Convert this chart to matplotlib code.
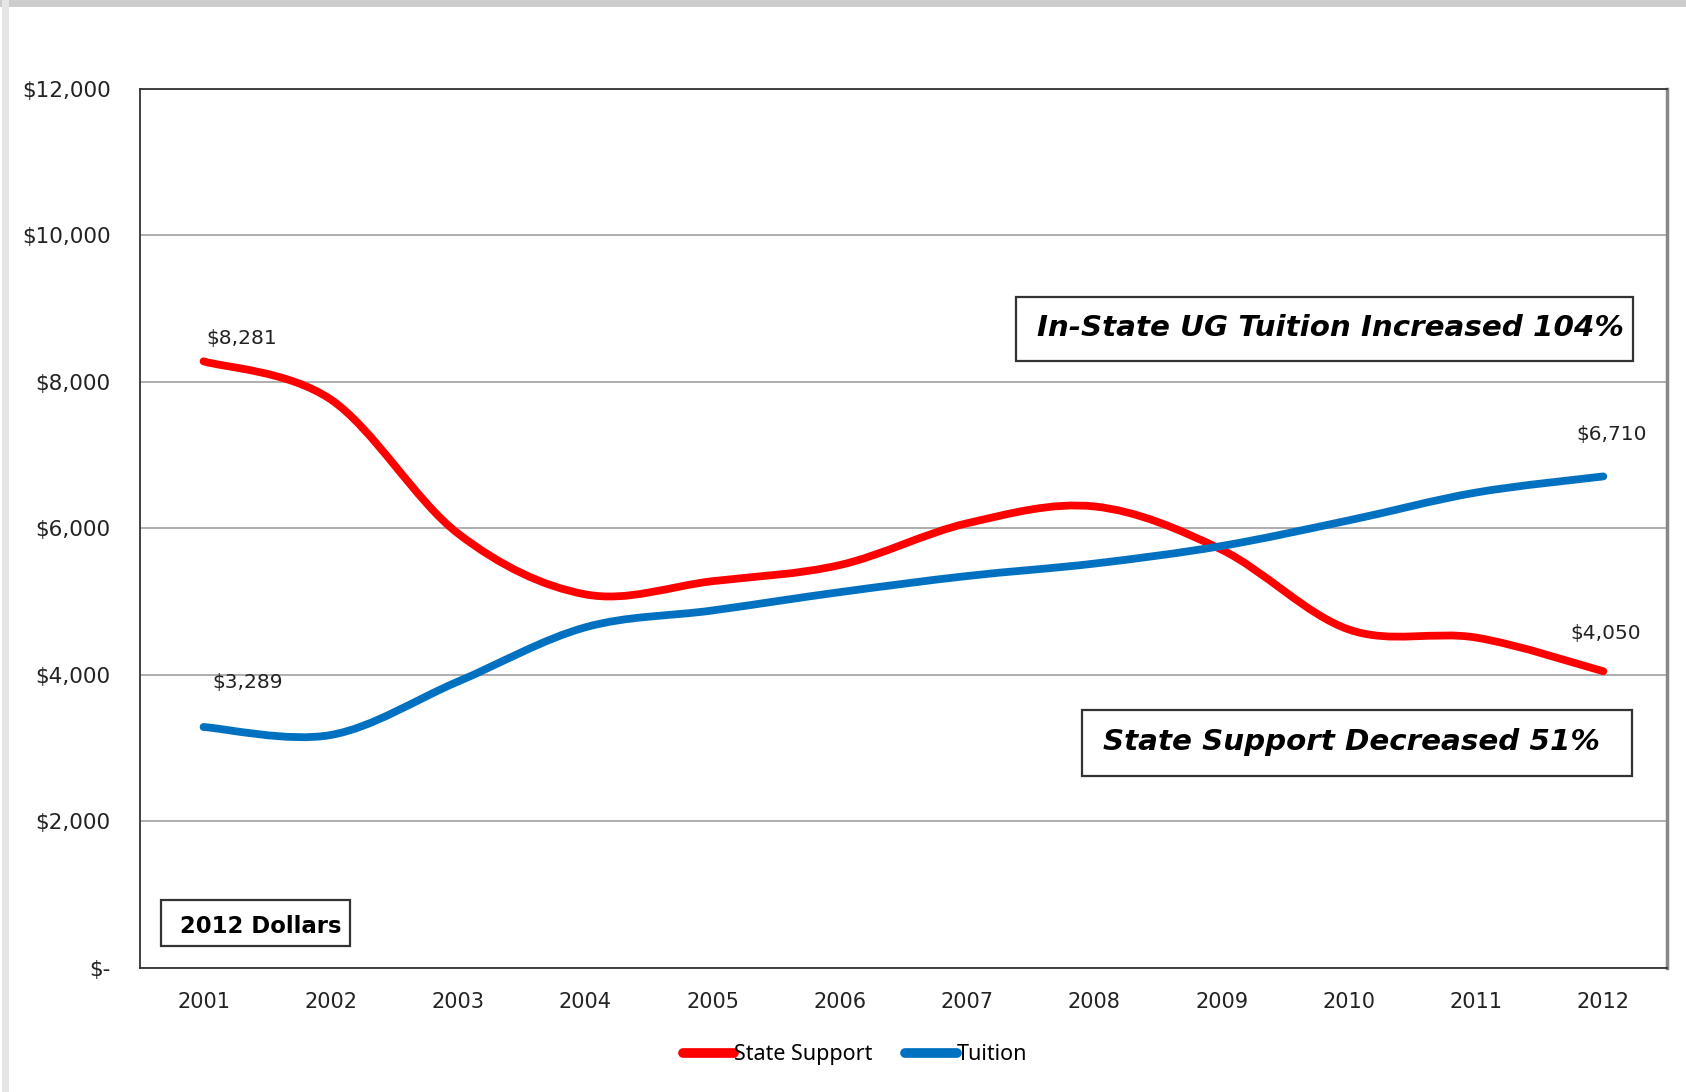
import numpy as np
import matplotlib.pyplot as plt
from matplotlib.path import Path
from matplotlib.patches import PathPatch, Rectangle
from matplotlib.lines import Line2D

plt.rcParams['font.family'] = ['DejaVu Sans']

years = [2001, 2002, 2003, 2004, 2005, 2006, 2007, 2008, 2009, 2010, 2011, 2012]
state_support = [8281, 7760, 5930, 5100, 5280, 5500, 6070, 6300, 5710, 4620, 4510, 4050]
tuition = [3289, 3180, 3910, 4650, 4880, 5130, 5350, 5520, 5760, 6110, 6490, 6710]
yticks = [0, 2000, 4000, 6000, 8000, 10000, 12000]
ytick_labels = ['$-', '$2,000', '$4,000', '$6,000', '$8,000', '$10,000', '$12,000']

red = '#FF0000'
blue = '#0070C0'


def smooth_path(x, y):
    # excel style smoothed line: bezier segments with catmull-rom control points
    pts = np.column_stack([x, y]).astype(float)
    ext = np.vstack([pts[0], pts, pts[-1]])
    verts = [pts[0]]
    codes = [Path.MOVETO]
    for i in range(len(pts) - 1):
        p0, p1, p2, p3 = ext[i], ext[i + 1], ext[i + 2], ext[i + 3]
        verts += [p1 + (p2 - p0) / 6, p2 - (p3 - p1) / 6, p2]
        codes += [Path.CURVE4] * 3
    return Path(verts, codes)


fig = plt.figure(figsize=(16.86, 10.92), dpi=100)
ax = fig.add_axes([0.083, 0.1136, 0.9057, 0.805])

for vals, col in [(state_support, red), (tuition, blue)]:
    ax.add_patch(PathPatch(smooth_path(years, vals), fill=False, edgecolor=col,
                           lw=5.6, capstyle='round', joinstyle='round', zorder=3))

ax.set_xlim(2000.5, 2012.5)
ax.set_ylim(0, 12000)
ax.set_xticks(years)
ax.set_xticklabels([str(y) for y in years], fontsize=15, color='#222222')
ax.set_yticks(yticks)
ax.set_yticklabels(ytick_labels, fontsize=15.5, color='#222222')
ax.tick_params(axis='both', length=0)
ax.tick_params(axis='y', pad=21)
ax.tick_params(axis='x', pad=17)
ax.yaxis.grid(True, color='#A8A8A8', lw=1.3)
ax.set_axisbelow(True)
for s in ax.spines.values():
    s.set_color('#333333')
    s.set_linewidth(1.3)
ax.spines['right'].set_color('#888888')
ax.spines['right'].set_linewidth(2.5)

# data labels at the ends
lab = dict(fontsize=14.5, color='#222222', ha='center')
ax.annotate('$8,281', (years[0], state_support[0]), xytext=(38, 13),
            textcoords='offset pixels', va='bottom', **lab)
ax.annotate('$3,289', (years[0], tuition[0]), xytext=(44, 35),
            textcoords='offset pixels', va='bottom', **lab)
ax.annotate('$6,710', (years[-1], tuition[-1]), xytext=(8, 32),
            textcoords='offset pixels', va='bottom', **lab)
ax.annotate('$4,050', (years[-1], state_support[-1]), xytext=(2, 28),
            textcoords='offset pixels', va='bottom', **lab)

# annotation boxes (axes fraction)
boxes = [
    ((0.574, 0.6906), 0.404, 0.0724, 0.7797, 0.728, 'In-State UG Tuition Increased 104%', 21.2, 'italic'),
    ((0.617, 0.218), 0.360, 0.0755, 0.7935, 0.257, 'State Support Decreased 51%', 21.2, 'italic'),
    ((0.01375, 0.025), 0.124, 0.0524, 0.0794, 0.0466, '2012 Dollars', 16.4, 'normal'),
]
for xy, w, h, tx, ty, txt, fs, st in boxes:
    ax.add_patch(Rectangle(xy, w, h, transform=ax.transAxes, facecolor='white',
                           edgecolor='#333333', lw=1.6, zorder=5))
    ax.text(tx, ty, txt, transform=ax.transAxes, fontsize=fs, fontweight='bold',
            fontstyle=st, ha='center', va='center', color='black', zorder=6)

handles = [Line2D([], [], color=red, lw=7, solid_capstyle='round'),
           Line2D([], [], color=blue, lw=7, solid_capstyle='round')]
fig.legend(handles, ['State Support', 'Tuition'], loc='center', bbox_to_anchor=(0.507, 0.034),
           ncol=2, frameon=False, handlelength=2.4, handletextpad=0.0, columnspacing=1.5,
           prop={'family': 'Noto Sans', 'size': 15.5})

# slide frame edges
fig.add_artist(Line2D([0, 1], [0.997, 0.997], color='#CCCCCC', lw=5, transform=fig.transFigure))
fig.add_artist(Line2D([0.003, 0.003], [0, 1], color='#E6E6E6', lw=5, transform=fig.transFigure))

fig.savefig('out.png', dpi=100)
